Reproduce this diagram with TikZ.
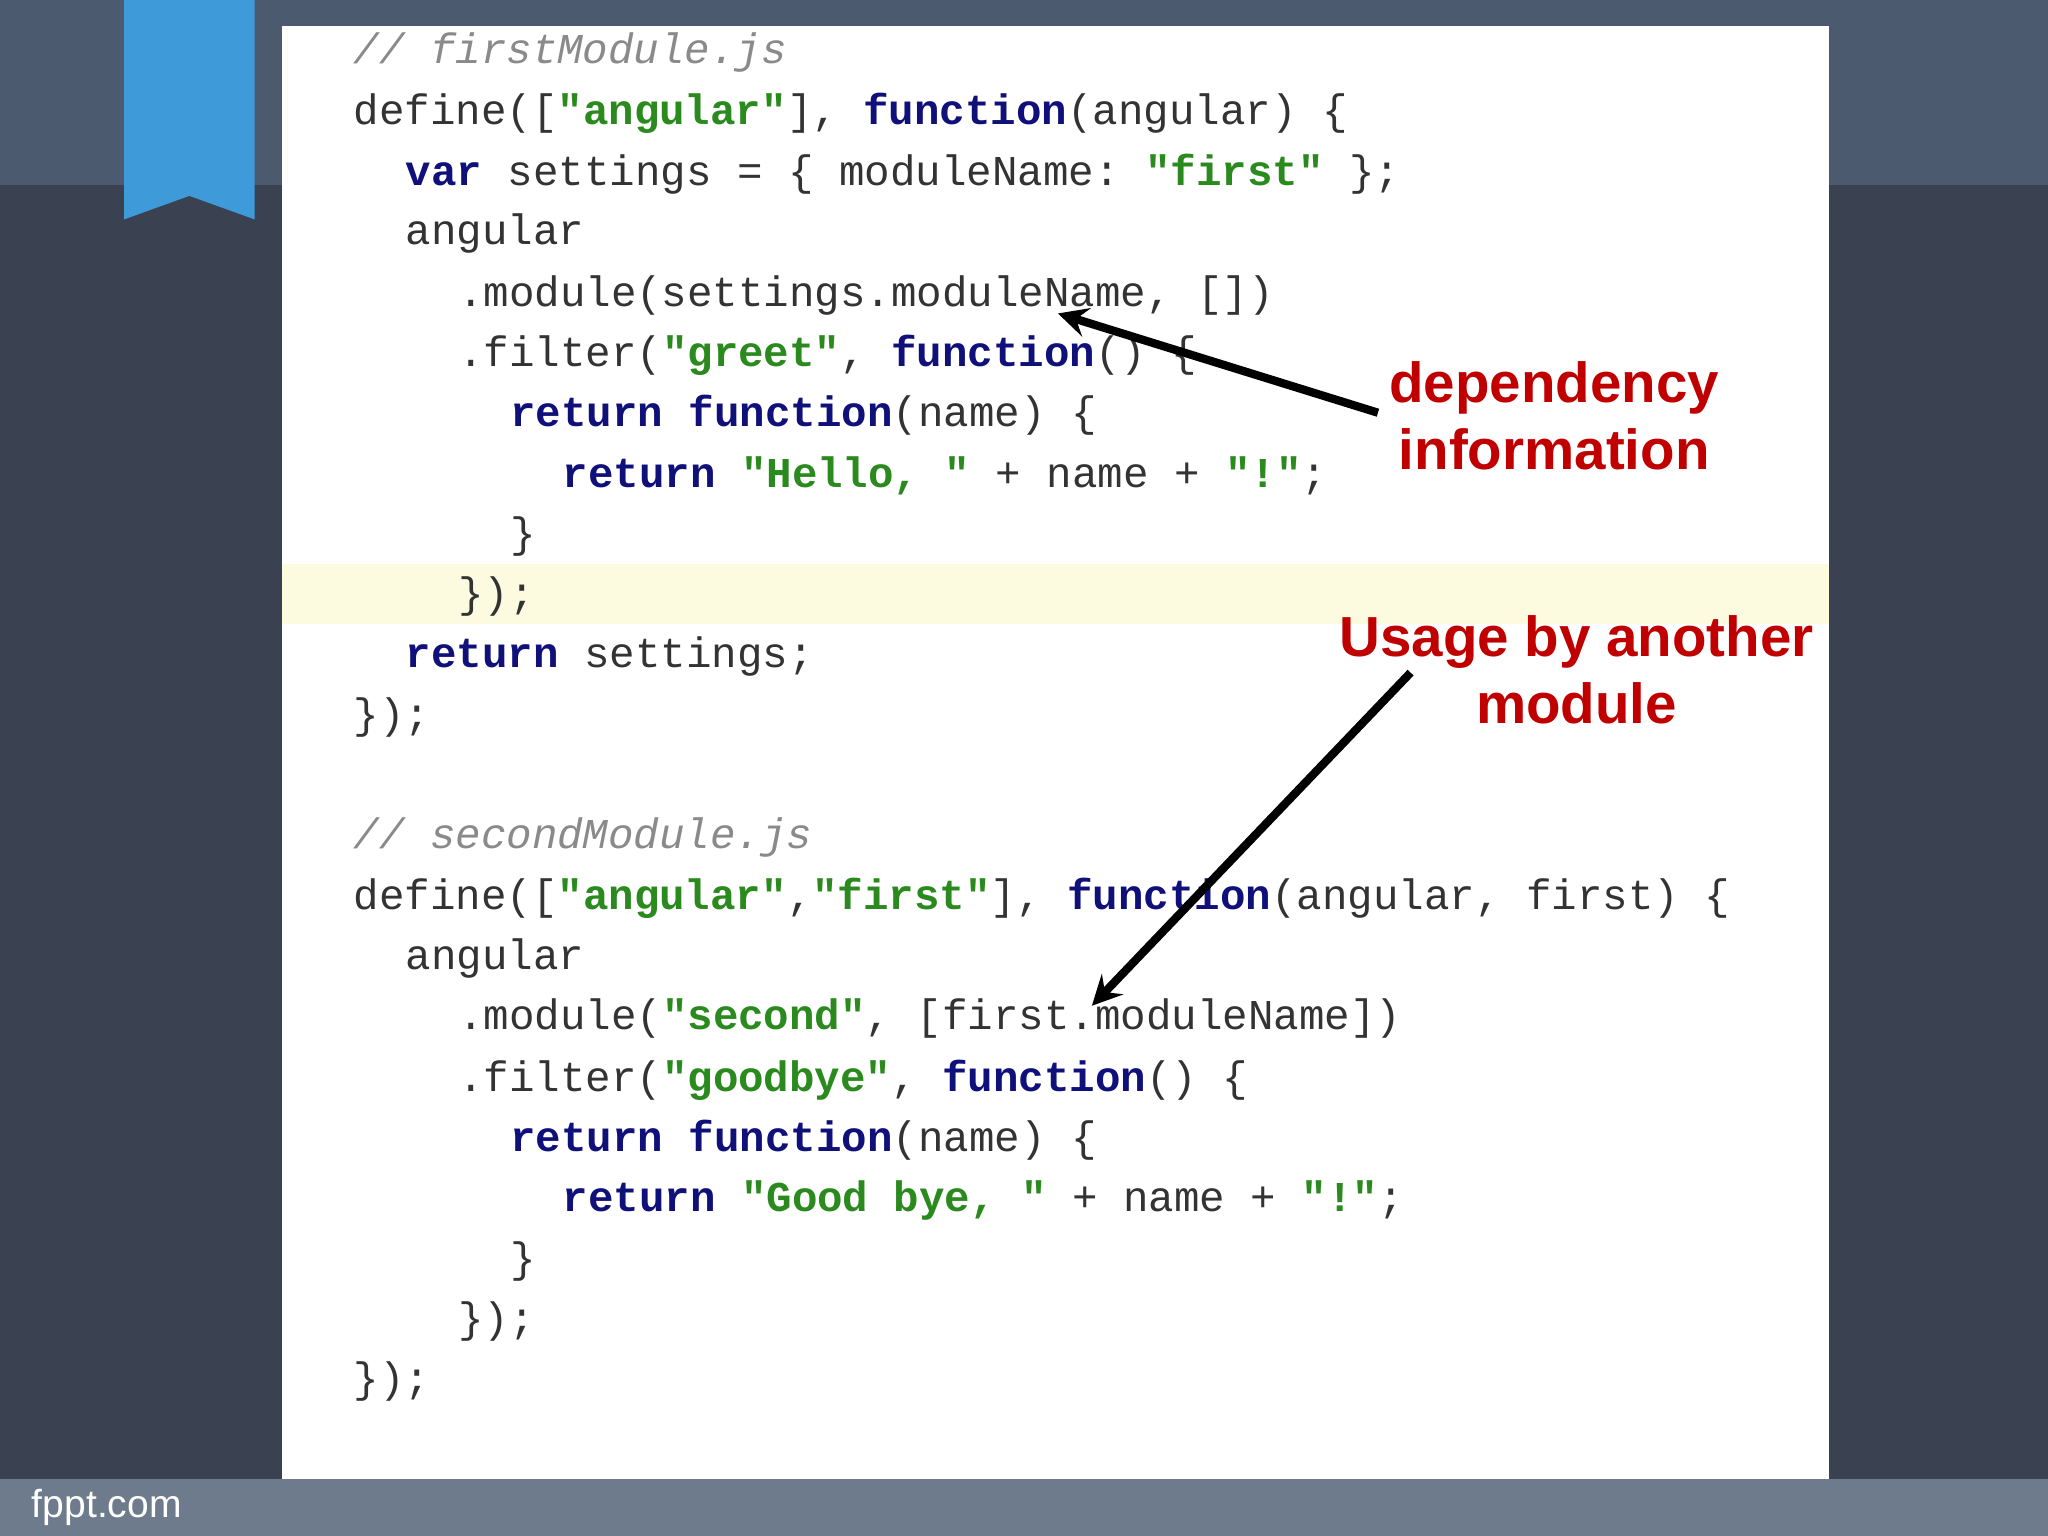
\documentclass[tikz,border=0pt]{standalone}
\usepackage{fontspec}
\setmonofont{Liberation Mono}
\setsansfont{Liberation Sans}
\definecolor{kwc}{HTML}{10107A}
\definecolor{stc}{HTML}{2A8A1E}
\definecolor{cmc}{HTML}{8A8A8A}
\definecolor{redc}{HTML}{C00000}
\definecolor{bgtop}{HTML}{4B5A6E}
\definecolor{bgmid}{HTML}{3A4150}
\definecolor{bgbot}{HTML}{6E7B8C}
\definecolor{ribbon}{HTML}{3E9AD8}
\definecolor{hl}{HTML}{FCFBE0}
\newcommand{\kw}[1]{\textbf{\color{kwc}#1}}
\newcommand{\st}[1]{\textbf{\color{stc}#1}}
\begin{document}
\begin{tikzpicture}[x=0.01cm,y=-0.01cm,
  code/.style={anchor=west,inner sep=0pt,font=\fontsize{9.25}{11}\ttfamily,text=black!80},
  lbl/.style={align=center,font=\fontsize{12.3}{14.6}\sffamily\bfseries,text=redc},
  arr/.style={-stealth,line width=1.8pt}]
\useasboundingbox (0,0) rectangle (1568,1176);
\fill[bgtop] (0,0) rectangle (1568,1176);
\fill[bgmid] (0,142) rectangle (1568,1132);
\fill[bgbot] (0,1132) rectangle (1568,1176);
\fill[ribbon] (95,0) -- (195,0) -- (195,168) -- (145,150) -- (95,168) -- cycle;
\fill[white] (216,20) rectangle (1400,1132);
\fill[hl] (216,432) rectangle (1400,478);
\node[anchor=west,font=\fontsize{8.5}{10}\sffamily,text=white!75] (fp) at (12,1154) {fppt.com};
\node[code] (l1) at (270,40) {\textit{\color{cmc}// firstModule.js}};
\node[code] (l2) at (270,87) {define([\st{"angular"}], \kw{function}(angular) \{};
\node[code] (l3) at (310,133) {\kw{var} settings = \{ moduleName: \st{"first"} \};};
\node[code] (l4) at (310,179) {angular};
\node[code] (l5) at (350,226) {.module(settings.moduleName, [])};
\node[code] (l6) at (350,272) {.filter(\st{"greet"}, \kw{function}() \{};
\node[code] (l7) at (390,318) {\kw{return} \kw{function}(name) \{};
\node[code] (l8) at (430,364) {\kw{return} \st{"Hello, "} + name + \st{"!"};};
\node[code] (l9) at (390,411) {\}};
\node[code] (l10) at (350,457) {\});};
\node[code] (l11) at (310,503) {\kw{return} settings;};
\node[code] (l12) at (270,549) {\});};
\node[code] (m1) at (270,641) {\textit{\color{cmc}// secondModule.js}};
\node[code] (m2) at (270,688) {define([\st{"angular"},\st{"first"}], \kw{function}(angular, first) \{};
\node[code] (m3) at (310,734) {angular};
\node[code] (m4) at (350,780) {.module(\st{"second"}, [first.moduleName])};
\node[code] (m5) at (350,827) {.filter(\st{"goodbye"}, \kw{function}() \{};
\node[code] (m6) at (390,873) {\kw{return} \kw{function}(name) \{};
\node[code] (m7) at (430,919) {\kw{return} \st{"Good bye, "} + name + \st{"!"};};
\node[code] (m8) at (390,966) {\}};
\node[code] (m9) at (350,1012) {\});};
\node[code] (m10) at (270,1058) {\});};
\node[lbl] (dep) at (1190,318) {dependency\\information};
\node[lbl] (use) at (1207,513) {Usage by another\\module};
\coordinate (a1) at (1055,316);
\coordinate (a1e) at (810,240);
\coordinate (a2) at (1080,515);
\coordinate (a2e) at (836,770);
\draw[arr] (a1) -- (a1e);
\draw[arr] (a2) -- (a2e);
\end{tikzpicture}
\end{document}
